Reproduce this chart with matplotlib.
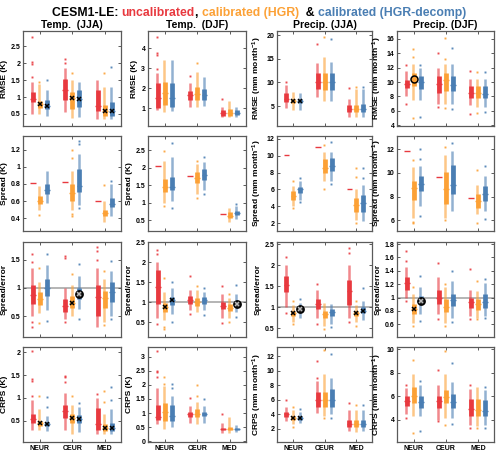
import matplotlib
matplotlib.use("Agg")
import matplotlib.pyplot as plt

plt.rcParams['font.family'] = ['Liberation Sans', 'DejaVu Sans']
plt.rcParams['font.weight'] = 'bold'
plt.rcParams['mathtext.default'] = 'regular'

regions = ["NEUR", "CEUR", "MED"]
methods = ["uncalibrated", "calibrated (HGR)", "calibrated (HGR-decomp)"]
col_titles = ["Temp.  (JJA)", "Temp.  (DJF)", "Precip. (JJA)", "Precip. (DJF)"]
row_labels_t = ["RMSE (K)", "Spread (K)", "Spread/error", "CRPS (K)"]
row_labels_p = ["RMSE (mm month$^{-1}$)", "Spread (mm month$^{-1}$)", "Spread/error", "CRPS (mm month$^{-1}$)"]

# each row: [whisker low, q1, median, q3, whisker high]; order NEUR(unc,HGR,decomp), CEUR(...), MED(...)
rmse_tjja = [[0.5, 0.85, 0.93, 1.15, 1.45], [0.5, 0.68, 0.78, 0.88, 1.4], [0.45, 0.65, 0.73, 0.9, 1.2],
             [0.55, 0.9, 1.22, 1.55, 1.85], [0.38, 0.65, 0.96, 1.15, 1.5], [0.42, 0.7, 0.95, 1.2, 1.45],
             [0.35, 0.6, 0.72, 1.2, 1.5], [0.35, 0.45, 0.58, 0.75, 1.3], [0.35, 0.45, 0.6, 0.85, 1.3]]
rmse_tjja_out = [[2.78, 2.05, 1.97, 1.6], [1.45], [1.52], [2.12, 2.0], [1.7], [], [], [1.72], [1.88]]
rmse_tdjf = [[0.92, 1.0, 1.5, 2.25, 2.75], [0.83, 1.17, 1.78, 2.33, 3.4], [0.85, 1.05, 1.5, 2.25, 3.4],
             [1.05, 1.42, 1.67, 1.87, 2.28], [1.05, 1.42, 1.72, 2.08, 2.83], [1.12, 1.42, 1.67, 1.95, 2.58],
             [0.55, 0.62, 0.75, 0.92, 1.08], [0.55, 0.62, 0.78, 0.95, 1.38], [0.58, 0.67, 0.75, 0.92, 1.05]]
rmse_tdjf_out = [[4.55, 3.75, 3.67, 2.95], [], [], [2.62], [3.28], [], [1.45], [], []]
rmse_pjja = [[4.5, 5.9, 6.6, 7.7, 9.4], [4.2, 5.7, 6.1, 6.6, 8.0], [4.2, 5.7, 6.1, 6.6, 7.8],
             [7.0, 8.7, 10.1, 11.9, 14.0], [6.1, 8.4, 10.1, 11.9, 15.4], [6.1, 8.5, 10.1, 11.9, 14.4],
             [2.6, 3.8, 4.4, 5.2, 6.6], [2.6, 3.8, 4.4, 5.2, 8.7], [2.6, 3.8, 4.4, 5.4, 8.7]]
rmse_pjja_out = [[10.1], [], [], [18.1], [19.5], [19.1], [8.9], [9.1], [9.1]]
rmse_pdjf = [[8.0, 9.2, 9.8, 10.3, 11.5], [7.5, 9.5, 10.4, 11.2, 12.5], [7.5, 9.0, 10.0, 10.8, 12.0],
             [7.0, 8.5, 9.8, 10.8, 12.0], [7.0, 8.8, 10.3, 11.2, 12.5], [7.0, 8.7, 9.6, 10.8, 12.5],
             [6.8, 7.8, 8.5, 9.5, 10.5], [6.5, 7.8, 8.5, 9.5, 10.5], [6.5, 7.8, 8.3, 9.5, 10.5]]
rmse_pdjf_out = [[12.4, 7.0], [14.6, 13.5, 5.0], [12.4, 5.2], [14.1, 6.5], [16.1, 13.2, 6.4], [14.8, 6.3],
                 [11.5, 5.6], [11.4, 5.7], [11.4, 5.8]]

spread_tjja = [[0.81] * 5, [0.5, 0.56, 0.6, 0.66, 0.78], [0.58, 0.68, 0.73, 0.8, 0.95],
               [0.82] * 5, [0.5, 0.6, 0.69, 0.8, 0.95], [0.55, 0.7, 0.78, 0.97, 1.15],
               [0.6] * 5, [0.35, 0.42, 0.46, 0.5, 0.6], [0.42, 0.53, 0.57, 0.64, 0.8]]
spread_tjja_out = [[], [0.44], [], [], [1.2, 1.1, 0.45, 0.42], [1.3, 1.27, 0.52], [], [0.79], [0.84]]
spread_tdjf = [[2.05] * 5, [1.0, 1.3, 1.45, 1.68, 2.2], [1.05, 1.35, 1.45, 1.72, 2.3],
               [1.75] * 5, [1.25, 1.55, 1.7, 1.88, 2.1], [1.35, 1.65, 1.78, 1.95, 2.15],
               [0.67] * 5, [0.45, 0.55, 0.63, 0.72, 0.85], [0.52, 0.64, 0.7, 0.75, 0.9]]
spread_tdjf_out = [[], [2.48, 0.9], [2.7, 0.85], [], [2.2, 1.12], [2.3, 1.25], [], [], [0.97]]
spread_pjja = [[10.1] * 5, [4.0, 4.8, 5.2, 5.8, 6.4], [4.7, 5.6, 6.0, 6.3, 7.0],
               [11.0] * 5, [7.0, 8.0, 8.5, 9.6, 10.5], [7.0, 8.2, 8.8, 9.7, 10.5],
               [6.0] * 5, [2.4, 3.3, 4.1, 5.0, 6.0], [2.3, 3.3, 4.4, 5.3, 6.5]]
spread_pjja_out = [[], [7.0, 3.8], [7.3, 4.5], [], [11.3, 6.0], [11.6, 6.6], [], [8.6, 7.5, 2.0], [8.6, 7.3]]
spread_pdjf = [[11.85] * 5, [6.2, 7.7, 8.7, 9.3, 10.5], [7.2, 8.5, 9.1, 9.7, 10.6],
               [9.65] * 5, [6.2, 7.4, 8.6, 10.1, 11.5], [6.8, 8.2, 9.0, 10.7, 11.8],
               [7.9] * 5, [6.5, 7.0, 7.6, 8.2, 9.0], [6.8, 7.6, 8.2, 8.9, 9.7]]
spread_pdjf_out = [[], [11.1, 5.8, 5.9], [12.0, 11.2, 6.4], [], [12.2, 6.0], [12.5], [], [10.2, 5.8], [10.6, 6.1]]

ratio_tjja = [[0.5, 0.72, 0.87, 1.05, 1.35], [0.55, 0.7, 0.8, 0.92, 1.1], [0.6, 0.85, 1.0, 1.15, 1.4],
              [0.45, 0.58, 0.68, 0.8, 1.0], [0.5, 0.65, 0.74, 0.85, 1.05], [0.62, 0.8, 0.89, 1.0, 1.2],
              [0.3, 0.5, 0.83, 1.05, 1.35], [0.4, 0.65, 0.82, 0.95, 1.15], [0.5, 0.75, 0.93, 1.1, 1.3]]
ratio_tjja_out = [[1.6, 1.45, 0.4, 0.3], [1.35, 0.37], [1.6, 0.42], [1.57, 1.52, 0.4], [1.25], [1.42, 0.45],
                  [1.73, 1.65, 1.5], [1.3, 0.35], [1.48, 0.45]]
ratio_tdjf = [[0.6, 0.95, 1.38, 1.8, 2.0], [0.55, 0.75, 0.87, 0.98, 1.25], [0.7, 0.92, 1.05, 1.12, 1.35],
              [0.8, 0.95, 1.05, 1.15, 1.3], [0.75, 0.9, 1.0, 1.1, 1.3], [0.8, 0.95, 1.05, 1.12, 1.25],
              [0.6, 0.82, 0.9, 1.0, 1.2], [0.6, 0.78, 0.85, 0.95, 1.1], [0.75, 0.88, 0.95, 1.02, 1.2]]
ratio_tdjf_out = [[2.3, 2.2, 0.45], [1.6, 0.38, 0.32], [1.5, 0.5], [1.65, 0.7], [1.4], [1.35, 0.68],
                  [1.4, 0.48], [1.2, 0.5], [1.42, 0.62]]
ratio_pjja = [[1.0, 1.35, 1.53, 1.75, 2.0], [0.65, 0.8, 0.86, 0.92, 1.05], [0.75, 0.9, 0.95, 1.02, 1.1],
              [0.75, 0.95, 1.07, 1.2, 1.4], [0.55, 0.75, 0.84, 0.92, 1.1], [0.6, 0.8, 0.88, 0.95, 1.08],
              [0.75, 1.05, 1.38, 1.65, 2.0], [0.65, 0.8, 0.86, 0.92, 1.05], [0.7, 0.85, 0.92, 1.0, 1.15]]
ratio_pjja_out = [[2.2, 0.85], [1.15, 0.6], [1.2], [1.55, 0.6], [0.48], [0.52], [2.4, 2.3, 0.65], [1.15, 0.55], [1.45]]
ratio_pdjf = [[1.0, 1.12, 1.22, 1.3, 1.45], [0.62, 0.75, 0.83, 0.9, 1.05], [0.75, 0.9, 0.95, 1.02, 1.15],
              [0.75, 0.9, 1.0, 1.12, 1.3], [0.62, 0.78, 0.86, 0.98, 1.15], [0.7, 0.87, 0.96, 1.05, 1.25],
              [0.72, 0.85, 0.93, 1.0, 1.12], [0.7, 0.82, 0.9, 0.98, 1.1], [0.72, 0.85, 0.93, 1.05, 1.22]]
ratio_pdjf_out = [[1.7, 1.55, 0.95], [1.15, 0.58], [1.32, 0.65], [1.52, 0.68], [1.2, 0.57], [1.4, 0.63],
                  [1.42, 0.68], [1.25, 0.68], [1.27, 0.7]]

crps_tjja = [[0.3, 0.45, 0.54, 0.65, 0.95], [0.3, 0.38, 0.44, 0.5, 0.75], [0.28, 0.38, 0.42, 0.48, 0.6],
             [0.3, 0.55, 0.71, 0.85, 1.1], [0.2, 0.45, 0.56, 0.65, 0.85], [0.25, 0.45, 0.53, 0.62, 0.8],
             [0.2, 0.3, 0.42, 0.78, 1.0], [0.2, 0.28, 0.34, 0.42, 0.65], [0.2, 0.28, 0.34, 0.45, 0.75]]
crps_tjja_out = [[2.03, 1.42, 1.37, 1.05], [1.05], [1.02, 0.8], [1.48, 1.45, 1.35], [1.05], [0.88],
                 [1.08], [1.15, 0.9], [1.25, 0.95]]
crps_tdjf = [[0.6, 0.75, 0.85, 1.3, 1.9], [0.45, 0.7, 1.02, 1.35, 1.95], [0.5, 0.7, 0.88, 1.3, 1.6],
             [0.65, 0.85, 0.95, 1.05, 1.25], [0.6, 0.85, 0.97, 1.15, 1.4], [0.65, 0.88, 0.96, 1.05, 1.25],
             [0.3, 0.38, 0.43, 0.48, 0.65], [0.3, 0.38, 0.43, 0.5, 0.85], [0.32, 0.38, 0.43, 0.48, 0.58]]
crps_tdjf_out = [[3.2, 2.5, 2.45, 2.3], [2.3, 2.05], [2.05, 1.9], [1.55], [2.0, 1.6], [1.5], [0.95], [], []]
crps_pjja = [[3.1, 3.6, 4.0, 4.3, 5.0], [2.6, 3.2, 3.5, 3.8, 4.5], [2.8, 3.2, 3.5, 3.8, 4.3],
             [4.2, 5.0, 5.9, 7.0, 8.5], [3.8, 5.0, 5.9, 7.0, 9.5], [4.0, 5.0, 5.9, 7.5, 9.0],
             [1.6, 2.2, 2.6, 3.2, 4.5], [1.5, 2.2, 2.6, 3.2, 4.5], [1.6, 2.2, 2.6, 3.2, 4.5]]
crps_pjja_out = [[5.9], [5.0, 2.2], [4.7], [11.3, 9.0], [12.8, 3.5], [12.3, 3.5], [5.5], [5.3], [5.3]]
crps_pdjf = [[4.5, 5.2, 5.6, 6.0, 6.7], [4.3, 5.4, 6.05, 6.8, 7.9], [4.3, 5.0, 5.55, 6.0, 7.0],
             [4.0, 5.0, 5.6, 6.0, 7.0], [4.2, 5.4, 5.95, 6.5, 7.9], [4.2, 5.0, 5.55, 6.2, 7.2],
             [3.6, 4.3, 4.9, 5.8, 6.6], [3.5, 4.3, 4.85, 5.8, 6.8], [3.6, 4.3, 4.8, 5.7, 6.5]]
crps_pdjf_out = [[7.0, 4.2], [9.1, 2.9], [7.3, 3.1], [8.2, 3.9], [9.8, 3.6], [8.8, 3.7], [7.0, 3.3], [3.3], [6.8, 3.3]]

# significance markers per box: '', 'x', 'o', 'ox'
sig_rmse_tjja = ['', 'x', 'x', '', 'x', 'x', '', 'x', 'x']
sig_rmse_pjja = ['', 'x', 'x', '', '', '', '', '', '']
sig_rmse_pdjf = ['', 'o', '', '', '', '', '', '', '']
sig_ratio_tjja = ['', '', '', '', 'x', 'ox', '', '', '']
sig_ratio_tdjf = ['', 'x', 'x', '', '', '', '', '', 'ox']
sig_ratio_pjja = ['', 'x', 'ox', '', '', '', '', 'x', 'x']
sig_ratio_pdjf = ['', 'x', 'ox', '', '', '', '', '', '']
sig_crps_tjja = ['', 'x', 'x', '', 'x', 'x', '', 'x', 'x']
sig_crps_pjja = ['', 'x', 'x', '', '', '', '', '', '']
no_sig = [''] * 9

ylims = [[(0.14, 2.96), (0.12, 4.87), (0.8, 20.85), (3.9, 17.1)],
         [(0.25, 1.36), (0.19, 2.9), (1.06, 12.35), (5.1, 13.1)],
         [(0.13, 1.81), (0.13, 2.5), (0.29, 2.55), (0.41, 1.83)],
         [(0.03, 2.12), (-0.03, 3.35), (0.15, 13.25), (2.14, 10.17)]]
yticks = [[[0.5, 1, 1.5, 2, 2.5], [1, 2, 3, 4], [5, 10, 15, 20], [4, 6, 8, 10, 12, 14, 16]],
          [[0.4, 0.6, 0.8, 1, 1.2], [0.5, 1, 1.5, 2, 2.5], [2, 4, 6, 8, 10, 12], [6, 8, 10, 12]],
          [[0.5, 1, 1.5], [0.5, 1, 1.5, 2, 2.5], [0.5, 1, 1.5, 2, 2.5], [0.6, 0.8, 1, 1.2, 1.4, 1.6, 1.8]],
          [[0.5, 1, 1.5, 2], [0, 0.5, 1, 1.5, 2, 2.5, 3], [2, 4, 6, 8, 10, 12], [4, 6, 8, 10]]]

panels = [[(rmse_tjja, rmse_tjja_out, sig_rmse_tjja), (rmse_tdjf, rmse_tdjf_out, no_sig),
           (rmse_pjja, rmse_pjja_out, sig_rmse_pjja), (rmse_pdjf, rmse_pdjf_out, sig_rmse_pdjf)],
          [(spread_tjja, spread_tjja_out, no_sig), (spread_tdjf, spread_tdjf_out, no_sig),
           (spread_pjja, spread_pjja_out, no_sig), (spread_pdjf, spread_pdjf_out, no_sig)],
          [(ratio_tjja, ratio_tjja_out, sig_ratio_tjja), (ratio_tdjf, ratio_tdjf_out, sig_ratio_tdjf),
           (ratio_pjja, ratio_pjja_out, sig_ratio_pjja), (ratio_pdjf, ratio_pdjf_out, sig_ratio_pdjf)],
          [(crps_tjja, crps_tjja_out, sig_crps_tjja), (crps_tdjf, crps_tdjf_out, no_sig),
           (crps_pjja, crps_pjja_out, sig_crps_pjja), (crps_pdjf, crps_pdjf_out, no_sig)]]

colors = ['#E8393F', '#FCA136', '#4A7EB3']
spine_c = '#5a5a5a'

W, H = 500, 453
fig = plt.figure(figsize=(W / 100, H / 100), dpi=100)
col_left = [23, 148, 277, 397]
col_w = [98, 98, 95, 97]
row_top = [31, 136, 242, 347]
row_h = 95
offs = [-0.22, 0.0, 0.22]

for r in range(4):
    for c in range(4):
        ax = fig.add_axes([col_left[c] / W, 1 - (row_top[r] + row_h) / H, col_w[c] / W, row_h / H])
        stats, outs, sig = panels[r][c]
        if r == 2:
            ax.axhline(1.0, color='#a0a0a0', lw=1.1, zorder=0)
        for i in range(3):
            for j in range(3):
                k = i * 3 + j
                lo, q1, med, q3, hi = stats[k]
                x = i + 1 + offs[j]
                col = colors[j]
                ax.vlines(x - 0.015, lo, hi, color=col, lw=1.8, alpha=0.6, zorder=2)
                ax.vlines(x, q1, q3, color=col, lw=3.4, zorder=3)
                ax.hlines(med, x - 0.09, x + 0.09, color=col, lw=1.0, zorder=4)
                if outs[k]:
                    ax.plot([x - 0.015] * len(outs[k]), outs[k], 's', ms=1.4, color=col, mec='none',
                            alpha=0.9, zorder=2)
                s = sig[k]
                if 'o' in s:
                    ax.plot(x, med, 'o', ms=5.2 if 'x' in s else 5.0,
                            mfc=('#222222' if 'x' in s else 'none'), mec='k', mew=1.1, zorder=6)
                if 'x' in s:
                    ax.plot(x, med, 'x', ms=3.0, color=('#bbbbbb' if 'o' in s else 'k'), mew=1.1, zorder=7)
        ax.set_xlim(0.48, 3.5)
        ax.set_ylim(*ylims[r][c])
        ax.set_yticks(yticks[r][c])
        ax.set_yticklabels([f"{v:g}" for v in yticks[r][c]])
        ax.set_xticks([1, 2, 3])
        if r == 3:
            ax.set_xticklabels(regions, fontsize=6.5, fontweight='bold')
        else:
            ax.set_xticklabels([])
        ax.tick_params(direction='in', top=True, right=True, length=2.2, width=0.7, color=spine_c,
                       labelsize=5, pad=2)
        for lbl in ax.get_yticklabels():
            lbl.set_fontweight('bold')
        for sp in ax.spines.values():
            sp.set_color(spine_c)
            sp.set_linewidth(0.9)
        ylab = row_labels_t[r] if c < 2 else row_labels_p[r]
        ax.set_ylabel(ylab, fontsize=6, fontweight='bold', labelpad=2)
        if r == 0:
            ax.set_title(col_titles[c], fontsize=7.5, fontweight='bold', pad=2)

# multi-coloured title: offsets measured from prefix strings (with a sentinel so spaces count)
pieces = [("CESM1-LE: ", 'k'), ("uncalibrated", colors[0]), (", ", 'k'),
          ("calibrated (HGR)", colors[1]), ("  & ", 'k'), ("calibrated (HGR-decomp)", colors[2])]
renderer = fig.canvas.get_renderer()
tfs = 8.8
ty = 1 - 13 / H


def text_width(s):
    t = fig.text(0, ty, s, fontsize=tfs, fontweight='bold')
    w = t.get_window_extent(renderer=renderer).width
    t.remove()
    return w


sent_w = text_width("|")
full = "".join(p for p, _ in pieces)
total = text_width(full)
start = 259 - total / 2
prefix = ""
for s, col in pieces:
    off = 0.0 if prefix == "" else text_width(prefix + "|") - sent_w
    fig.text((start + off) / W, ty, s, color=col, fontsize=tfs, fontweight='bold', va='center', ha='left')
    prefix += s

fig.savefig("out.png", dpi=100)
